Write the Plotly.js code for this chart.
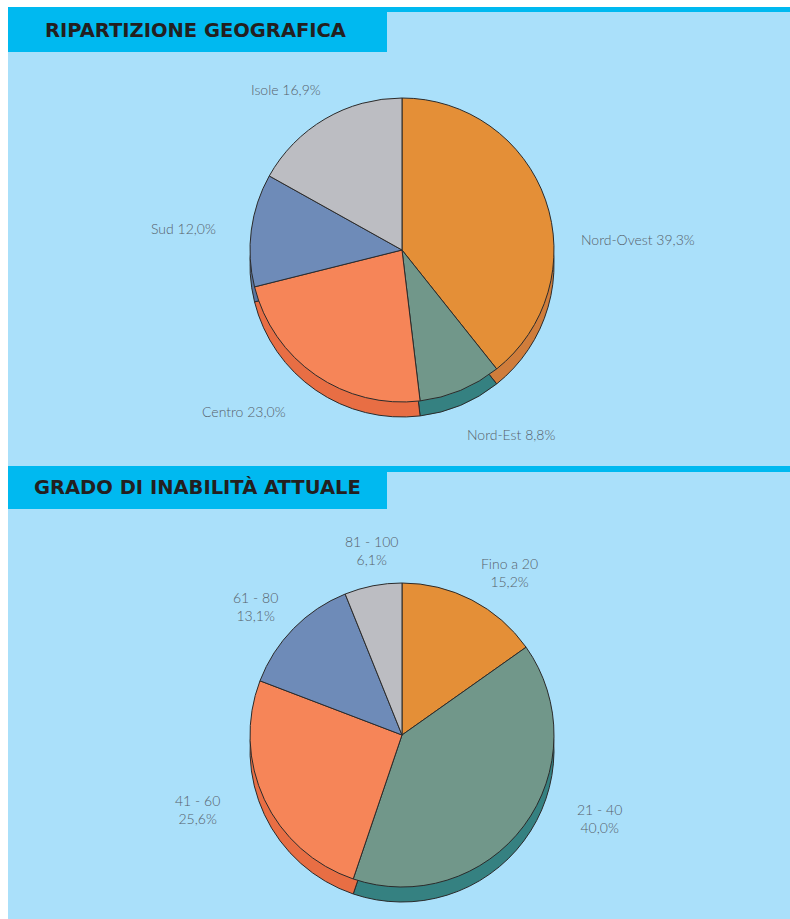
<!DOCTYPE html>
<html>
<head>
<meta charset="utf-8">
<script src="https://cdn.plot.ly/plotly-3.0.1.min.js"></script>
<style>
  html, body { margin: 0; padding: 0; background: #ffffff; }
  #chart { width: 790px; height: 919px; }
</style>
</head>
<body>
<div id="chart"></div>
<script>
// ---- Data ----
const title1 = "RIPARTIZIONE GEOGRAFICA";
const labels1 = ["Nord-Ovest", "Nord-Est", "Centro", "Sud", "Isole"];
const values1 = [39.3, 8.8, 23.0, 12.0, 16.9];

const title2 = "GRADO DI INABILITÀ ATTUALE";
const labels2 = ["Fino a 20", "21 - 40", "41 - 60", "61 - 80", "81 - 100"];
const values2 = [15.2, 40.0, 25.6, 13.1, 6.1];

// ---- Styles ----
const topColors  = ["#e48f37", "#71978a", "#f68558", "#6e8bb8", "#bcbdc2"];
const sideColors = ["#d07d3b", "#358181", "#e86e44", "#5a76a0", "#9fa0a6"];
const W = 790, H = 919;
const lightBlue = "#aae0fa", cyan = "#00b9f0";
const R = 152, DEPTH = 15;
const pie1C = [402, 250], pie2C = [402, 735];
// label anchor positions (px) for each slice
const lab1Pos = [[638, 240], [511, 434], [244, 411], [183, 228], [286, 90]];
const lab2Pos = [[509, 572], [599, 818], [197, 809], [255, 606], [371, 550]];

const px = x => x / W;
const py = y => 1 - y / H;
const fmt = v => v.toFixed(1).replace(".", ",") + "%";

function pieTrace(labels, values, colors, cx, cy) {
  return {
    type: "pie", labels: labels, values: values, sort: false,
    direction: "clockwise", rotation: 0,
    textinfo: "none", hoverinfo: "none", showlegend: false,
    marker: { colors: colors, line: { color: "#2b2b2b", width: 1 } },
    domain: { x: [px(cx - R), px(cx + R)], y: [py(cy + R), py(cy - R)] }
  };
}

const data = [
  pieTrace(labels1, values1, sideColors, pie1C[0], pie1C[1] + DEPTH),
  pieTrace(labels1, values1, topColors, pie1C[0], pie1C[1]),
  pieTrace(labels2, values2, sideColors, pie2C[0], pie2C[1] + DEPTH),
  pieTrace(labels2, values2, topColors, pie2C[0], pie2C[1])
];

function rect(x0, y0, x1, y1, color) {
  return { type: "rect", xref: "paper", yref: "paper", layer: "below",
    x0: px(x0), x1: px(x1), y0: py(y1), y1: py(y0),
    fillcolor: color, line: { width: 0 } };
}

const shapes = [
  rect(8, 7, 790, 466, lightBlue),
  rect(8, 7, 790, 12, cyan),
  rect(8, 7, 387, 52, cyan),
  rect(8, 466, 790, 919, lightBlue),
  rect(8, 466, 790, 472, cyan),
  rect(8, 466, 387, 509, cyan)
];

const labFont = { family: "Lato, 'Open Sans', sans-serif", size: 14, color: "#56606b", weight: 300 };
const titleFont = { family: "'DejaVu Sans', sans-serif", size: 19.5, color: "#231f20", weight: 700 };

const annotations = [];
annotations.push({ xref: "paper", yref: "paper", x: px(43), y: py(30), xanchor: "left", yanchor: "middle",
  text: title1, showarrow: false, font: titleFont });
annotations.push({ xref: "paper", yref: "paper", x: px(32), y: py(488), xanchor: "left", yanchor: "middle",
  text: title2, showarrow: false, font: titleFont });
labels1.forEach((l, i) => annotations.push({
  xref: "paper", yref: "paper", x: px(lab1Pos[i][0]), y: py(lab1Pos[i][1]),
  xanchor: "center", yanchor: "middle", showarrow: false,
  text: l + " " + fmt(values1[i]), font: labFont }));
labels2.forEach((l, i) => annotations.push({
  xref: "paper", yref: "paper", x: px(lab2Pos[i][0]), y: py(lab2Pos[i][1]),
  xanchor: "center", yanchor: "middle", showarrow: false,
  text: l + "<br>" + fmt(values2[i]), font: labFont }));

const layout = {
  width: W, height: H,
  margin: { l: 0, r: 0, t: 0, b: 0 },
  paper_bgcolor: "#ffffff", plot_bgcolor: "#ffffff",
  shapes: shapes, annotations: annotations
};

Plotly.newPlot("chart", data, layout, { displayModeBar: false, staticPlot: true });
</script>
</body>
</html>
